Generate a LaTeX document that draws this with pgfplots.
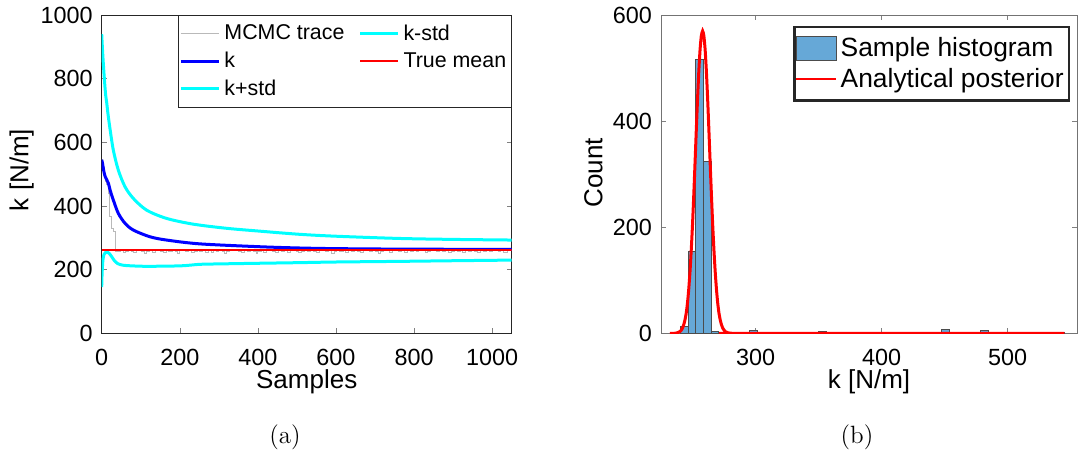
\documentclass[border=0pt]{standalone}
\usepackage{fontspec}
\usepackage{pgfplots}
\pgfplotsset{compat=1.18}
\newfontfamily\arial{Liberation Sans}
\definecolor{histfill}{RGB}{102,168,215}
\definecolor{traceg}{RGB}{185,185,185}
\definecolor{mcyan}{RGB}{0,255,255}
\definecolor{mblue}{RGB}{0,0,255}

\pgfplotsset{
  matlab/.style={
    scale only axis,
    anchor=south west,
    tick align=inside,
    major tick length=2.5pt,
    /pgf/number format/assume math mode=true,
    /pgf/number format/1000 sep={},
    ticklabel style={font=\arial\fontsize{11.7}{13}\selectfont},
    label style={font=\arial\fontsize{13}{15}\selectfont},
    xticklabel style={yshift=-4.6pt},
    yticklabel style={xshift=-1pt},
    legend cell align=left,
    legend image code/.code={\draw[##1] (0pt,0pt) -- (19pt,0pt);},
  },
  meanlegend/.style={
    legend image code/.code={\fill[fill=red, draw=none] (0pt,-0.4pt) rectangle (19pt,0.4pt);}},
  histlegend/.style={
    legend image code/.code={\draw[##1, line width=0.5pt] (0pt,-6pt) rectangle (20pt,6pt);}},
  redlegend/.style={
    legend image code/.code={\fill[fill=red, draw=none] (0pt,-0.5pt) rectangle (20pt,0.5pt);}},
}

\begin{document}
\begin{tikzpicture}[x=1pt,y=1pt]
\useasboundingbox (0,0) rectangle (539,228.5);

% (a) trace of the chain
\begin{axis}[matlab,
  at={(50.85pt,61.85pt)}, width=205pt, height=159.15pt,
  xmin=0, xmax=1050, ymin=0, ymax=1000,
  xtick={0,200,...,1000}, ytick={0,200,...,1000},
  axis line style={black!85},
  xlabel={Samples}, ylabel={k [N/m]},
  xlabel style={at={(axis description cs:0.5,-0.151)}, anchor=center},
  ylabel style={at={(axis description cs:-0.195,0.513)}, anchor=center},
  legend columns=2,
  legend style={at={(1,1)}, anchor=north east, draw=black!85, line width=0.5pt,
    font=\arial\fontsize{10.7}{12}\selectfont, inner xsep=0.5pt, inner ysep=2.5pt,
    row sep=0.5pt,
    /tikz/every even column/.append style={column sep=5pt}},
]
\addplot[traceg, line width=0.4pt, const plot] coordinates {
(0,545)(3,520)(6,495)(10,478)(13,467)(17,440)(19,400)(21,366)(24,340)(26,329)(30,320)(34,313)
(36,258)(42,256)(48,260)(55,254)(60,258)(68,262)(75,257)(82,253)(88,259)(95,261)(102,256)(110,250)
(114,258)(122,260)(130,255)(138,259)(145,263)(150,257)(158,254)(165,260)(172,256)(180,262)(188,258)
(195,252)(200,259)(208,261)(215,256)(222,260)(230,254)(237,258)(244,263)(250,257)(258,261)(265,255)
(272,259)(280,253)(287,260)(293,258)(300,262)(308,256)(315,250)(320,257)(328,261)(335,259)(342,264)
(350,258)(357,255)(365,260)(372,257)(380,262)(388,256)(395,251)(400,258)(408,260)(415,255)(422,259)
(430,263)(438,257)(445,254)(452,260)(460,258)(468,261)(475,255)(482,259)(490,262)(498,256)(505,253)
(512,258)(520,261)(528,257)(535,263)(542,258)(550,254)(558,259)(565,261)(572,256)(580,260)(588,252)
(595,258)(602,262)(610,257)(618,259)(625,255)(632,261)(640,258)(648,264)(655,257)(662,254)(670,259)
(678,261)(685,256)(692,260)(700,258)(708,250)(715,257)(722,261)(730,259)(738,255)(745,260)(752,263)
(760,257)(768,259)(775,254)(782,260)(790,258)(798,262)(805,256)(812,259)(820,261)(828,255)(835,258)
(842,264)(850,259)(858,256)(865,261)(872,257)(880,260)(888,253)(895,258)(902,262)(910,257)(918,259)
(925,255)(932,261)(940,258)(948,263)(955,257)(962,254)(970,260)(978,258)(985,262)(992,256)(1000,259)
(1008,261)(1015,257)(1022,260)(1030,255)(1038,259)(1045,261)(1050,258)
};
\addlegendentry{MCMC trace}
\addplot[mcyan, line width=1.5pt, smooth, tension=0.5] coordinates {
(0,145)(1,187)(3,229)(6,248)(10,254)(15,255)(20,250)(26,240)(32,229)(41,219)(54,214)(75,212)(117,210.5)
(203,212)(251,216.7)(300,218)(400,220)(507,222)(600,224)(762,226)(900,228)(1050,230)
};
\addlegendentry{k-std}
\addplot[mblue, line width=1.5pt, smooth, tension=0.5] coordinates {
(0,545)(2,535)(5,512)(8.5,494)(13,482)(17,472)(22,448)(29.7,419)(42.5,377)(59.5,346)(80.8,324.5)
(123,303.5)(166,293)(251,281)(404,272)(507,268)(600,266)(762,264.5)(900,264)(1050,263.5)
};
\addlegendentry{k}
\addplot[red, line width=0.6pt, meanlegend] coordinates {(0,262)(1050,262)};
\addlegendentry{True mean}
\addplot[mcyan, line width=1.5pt, smooth, tension=0.5] coordinates {
(0,940)(3,870)(6.8,800)(10,750)(12.8,725)(16,690)(21,645)(29.7,576)(42.5,513)(59.5,461)(80.8,424)
(115,387)(166,361)(234,343)(319,330)(404,321)(507,311)(600,305)(762,298)(900,295)(1050,293)
};
\addlegendentry{k+std}
\end{axis}

% (b) histogram of the samples
\begin{axis}[matlab,
  at={(330.5pt,61.85pt)}, width=208pt, height=159.15pt,
  xmin=225, xmax=555, ymin=0, ymax=600,
  xtick={300,400,500}, ytick={0,200,400,600},
  axis line style={black!55},
  xlabel={k [N/m]}, ylabel={Count},
  xlabel style={at={(axis description cs:0.5,-0.151)}, anchor=center},
  ylabel style={at={(axis description cs:-0.1625,0.504)}, anchor=center},
  legend style={at={(0.983,0.9655)}, anchor=north east, draw=black!85, line width=1.2pt,
    font=\arial\fontsize{13.2}{15}\selectfont, inner xsep=0.5pt, inner ysep=3pt,
    row sep=0.5pt},
]
\addplot[ybar, bar width=6.1, fill=histfill, draw=black!70, line width=0.5pt, histlegend]
coordinates {
(243.45,13)(249.55,155)(255.65,516)(261.75,323)(267.85,3)
(298.35,5)(322.75,1)(328.85,1)(353.25,4)(359.35,1)
(450.85,8)(463.05,1)(481.35,5)(536.25,1)(542.35,1)
};
\addlegendentry{Sample histogram}
\addplot[red, line width=1.5pt, smooth, tension=0.4, redlegend]
coordinates {
(232,0)(236,0.1)(238,1)(240,3.2)(241,5.5)(242,9.6)(243,16)(244,25)(245,38)(246,57)(247,83)(248,116)
(249,157)(250,205)(251,261)(252,321)(253,383)(254,442)(255,494)(256,535)(257,561)(258,570)
(259,561)(260,535)(261,494)(262,442)(263,383)(264,321)(265,261)(266,205)(267,157)(268,116)
(269,83)(270,57)(271,38)(272,25)(273,16)(274,9.6)(276,3.2)(278,1)(281,0.1)(285,0)(545,0)
};
\addlegendentry{Analytical posterior}
\end{axis}

\node[font=\fontsize{12.5}{14}\selectfont] at (142.5,10) {(a)};
\node[font=\fontsize{12.5}{14}\selectfont] at (428.5,10) {(b)};
\end{tikzpicture}
\end{document}
